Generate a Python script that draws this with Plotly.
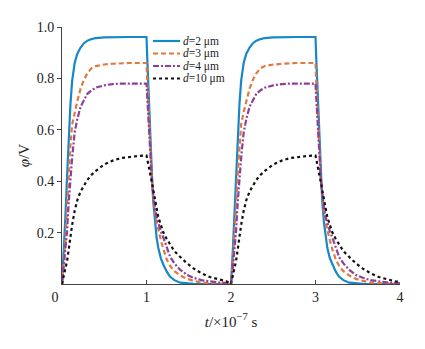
import plotly.graph_objects as go

# time axis (units of 1e-7 s), two charge/discharge cycles
t_values = [
    0.00, 0.02, 0.04, 0.06, 0.08, 0.10, 0.12, 0.15, 0.18, 0.22, 0.26, 0.30, 0.35, 0.40,
    0.50, 0.60, 0.70, 0.80, 0.90, 1.00, 1.01, 1.02, 1.03, 1.04, 1.05, 1.06, 1.07, 1.08,
    1.10, 1.12, 1.14, 1.17, 1.20, 1.24, 1.28, 1.33, 1.40, 1.48, 1.56, 1.65, 1.75, 1.85, 1.95,
    2.00, 2.02, 2.04, 2.06, 2.08, 2.10, 2.12, 2.15, 2.18, 2.22, 2.26, 2.30, 2.35, 2.40,
    2.50, 2.60, 2.70, 2.80, 2.90, 3.00, 3.01, 3.02, 3.03, 3.04, 3.05, 3.06, 3.07, 3.08,
    3.10, 3.12, 3.14, 3.17, 3.20, 3.24, 3.28, 3.33, 3.40, 3.48, 3.56, 3.65, 3.75, 3.85, 3.95,
    4.00,
]

phi_d2 = [
    0, 0.12, 0.26, 0.42, 0.58, 0.70, 0.79, 0.86, 0.895, 0.92, 0.937, 0.947, 0.953, 0.957,
    0.96, 0.961, 0.961, 0.961, 0.961, 0.961, 0.87, 0.78, 0.69, 0.60, 0.52, 0.45, 0.38, 0.32,
    0.24, 0.18, 0.14, 0.10, 0.075, 0.048, 0.028, 0.015, 0.005, 0.002, 0.001, 0, 0, 0, 0,
    0, 0.12, 0.26, 0.42, 0.58, 0.70, 0.79, 0.86, 0.895, 0.92, 0.937, 0.947, 0.953, 0.957,
    0.96, 0.961, 0.961, 0.961, 0.961, 0.961, 0.87, 0.78, 0.69, 0.60, 0.52, 0.45, 0.38, 0.32,
    0.24, 0.18, 0.14, 0.10, 0.075, 0.048, 0.028, 0.015, 0.005, 0.002, 0.001, 0, 0, 0, 0,
    0,
]

phi_d3 = [
    0, 0.08, 0.17, 0.30, 0.43, 0.54, 0.62, 0.67, 0.71, 0.76, 0.795, 0.82, 0.84, 0.848,
    0.854, 0.857, 0.859, 0.86, 0.86, 0.86, 0.78, 0.70, 0.62, 0.55, 0.49, 0.43, 0.38, 0.34,
    0.28, 0.24, 0.21, 0.17, 0.135, 0.095, 0.07, 0.05, 0.033, 0.02, 0.012, 0.006, 0.003, 0.001, 0.0005,
    0, 0.08, 0.17, 0.30, 0.43, 0.54, 0.62, 0.67, 0.71, 0.76, 0.795, 0.82, 0.84, 0.848,
    0.854, 0.857, 0.859, 0.86, 0.86, 0.86, 0.78, 0.70, 0.62, 0.55, 0.49, 0.43, 0.38, 0.34,
    0.28, 0.24, 0.21, 0.17, 0.135, 0.095, 0.07, 0.05, 0.033, 0.02, 0.012, 0.006, 0.003, 0.001, 0.0005,
    0.0003,
]

phi_d4 = [
    0, 0.06, 0.13, 0.205, 0.32, 0.42, 0.49, 0.59, 0.64, 0.69, 0.715, 0.74, 0.754, 0.764,
    0.773, 0.778, 0.78, 0.78, 0.78, 0.78, 0.72, 0.65, 0.58, 0.52, 0.47, 0.42, 0.38, 0.35,
    0.30, 0.26, 0.235, 0.205, 0.18, 0.14, 0.105, 0.08, 0.055, 0.035, 0.024, 0.015, 0.01, 0.006, 0.004,
    0, 0.06, 0.13, 0.205, 0.32, 0.42, 0.49, 0.59, 0.64, 0.69, 0.715, 0.74, 0.754, 0.764,
    0.773, 0.778, 0.78, 0.78, 0.78, 0.78, 0.72, 0.65, 0.58, 0.52, 0.47, 0.42, 0.38, 0.35,
    0.30, 0.26, 0.235, 0.205, 0.18, 0.14, 0.105, 0.08, 0.055, 0.035, 0.024, 0.015, 0.01, 0.006, 0.004,
    0.003,
]

phi_d10 = [
    0, 0.03, 0.06, 0.09, 0.135, 0.185, 0.23, 0.285, 0.325, 0.36, 0.385, 0.405, 0.425, 0.44,
    0.465, 0.48, 0.49, 0.495, 0.498, 0.50, 0.485, 0.47, 0.455, 0.44, 0.42, 0.405, 0.385, 0.365,
    0.325, 0.29, 0.26, 0.23, 0.20, 0.175, 0.153, 0.128, 0.105, 0.08, 0.06, 0.042, 0.027, 0.017, 0.01,
    0, 0.03, 0.06, 0.09, 0.135, 0.185, 0.23, 0.285, 0.325, 0.36, 0.385, 0.405, 0.425, 0.44,
    0.465, 0.48, 0.49, 0.495, 0.498, 0.50, 0.485, 0.47, 0.455, 0.44, 0.42, 0.405, 0.385, 0.365,
    0.325, 0.29, 0.26, 0.23, 0.20, 0.175, 0.153, 0.128, 0.105, 0.08, 0.06, 0.042, 0.027, 0.017, 0.01,
    0.008,
]

series_labels = ["<i>d</i>=2 μm", "<i>d</i>=3 μm", "<i>d</i>=4 μm", "<i>d</i>=10 μm"]
series_values = [phi_d2, phi_d3, phi_d4, phi_d10]
series_colors = ["#1787C7", "#E0793F", "#8E3F98", "#111111"]
series_dashes = ["solid", "5px,3px", "6px,2px,2px,2px", "dot"]
series_widths = [2.2, 2.2, 2.2, 2.2]

x_tick_vals = [0, 1, 2, 3, 4]
x_tick_text = ["0\u2007\u2007", "1", "2", "3", "4"]
y_tick_vals = [0.2, 0.4, 0.6, 0.8, 1.0]
y_tick_text = ["0.2", "0.4", "0.6", "0.8", "1.0"]

FONT = "Liberation Serif, Times New Roman, DejaVu Serif, serif"

fig = go.Figure()
for lab, vals, col, dash, w in zip(series_labels, series_values, series_colors,
                                   series_dashes, series_widths):
    fig.add_trace(go.Scatter(
        x=t_values, y=vals, mode="lines", name=lab,
        line=dict(color=col, dash=dash, width=w),
        showlegend=False,
    ))

# compact hand-placed legend (native legend rows are too tall)
L, R, T, B, W, H = 62, 25, 27, 65, 425, 349
pw, ph = W - L - R, H - T - B
legend_rows_px = [41.0, 53.5, 66.0, 78.5]
for lab, col, dash, ypx in zip(series_labels, series_colors, series_dashes, legend_rows_px):
    yp = (H - B - ypx) / ph
    fig.add_shape(type="line", xref="paper", yref="paper",
                  x0=(153 - L) / pw, x1=(180 - L) / pw, y0=yp, y1=yp,
                  line=dict(color=col, dash=dash, width=2.2))
    fig.add_annotation(xref="paper", yref="paper", x=(182 - L) / pw, y=yp,
                       xanchor="left", yanchor="middle", showarrow=False,
                       borderpad=0,
                       text=lab, font=dict(family=FONT, size=11.5, color="#222"))

fig.update_layout(
    width=W, height=H,
    margin=dict(l=L, r=R, t=T, b=B),
    paper_bgcolor="white", plot_bgcolor="white",
    font=dict(family=FONT, size=13, color="#222"),
    xaxis=dict(
        range=[0, 4], showgrid=False, zeroline=False,
        showline=True, linecolor="#444", linewidth=1,
        ticks="inside", ticklen=4, tickcolor="#444",
        tickvals=x_tick_vals, ticktext=x_tick_text,
        tickfont=dict(family=FONT, size=14, color="#222"),
        title=dict(text="<i>t</i>/×10<sup>−7</sup> s", standoff=12,
                   font=dict(family=FONT, size=15, color="#222")),
    ),
    yaxis=dict(
        range=[0, 1.0], showgrid=False, zeroline=False,
        showline=True, linecolor="#444", linewidth=1,
        ticks="outside", ticklen=4, tickcolor="#444",
        tickvals=y_tick_vals, ticktext=y_tick_text,
        tickfont=dict(family=FONT, size=14, color="#222"),
        title=dict(text="<i>φ</i>/V", standoff=3,
                   font=dict(family=FONT, size=15, color="#222")),
    ),
)

fig.write_html("out.html")
